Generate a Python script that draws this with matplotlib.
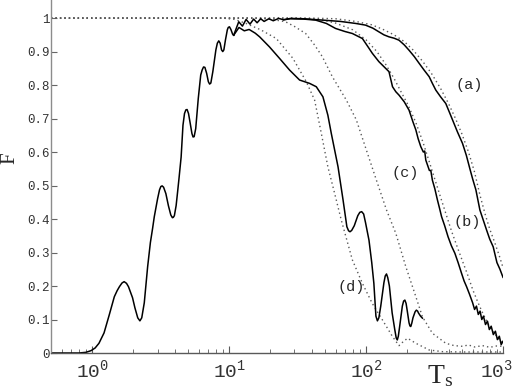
import numpy as np
import matplotlib
matplotlib.use("Agg")
import matplotlib.pyplot as plt
import matplotlib.transforms as mtransforms

plt.rcParams['font.family'] = 'Liberation Mono'
plt.rcParams['mathtext.fontset'] = 'custom'
plt.rcParams['mathtext.rm'] = 'Liberation Mono'

# ── data ─────────────────────────────────────────────────────────────────────
# common rising part (all solid curves share it)
t_rise = [0.5, 0.8, 0.9, 0.98, 1.05, 1.12, 1.22, 1.33, 1.45, 1.52, 1.58, 1.65, 1.71, 1.78,
          1.84, 1.97, 2.05, 2.15, 2.23, 2.3, 2.4, 2.54, 2.66, 2.76, 2.84, 3.0, 3.1, 3.17,
          3.24, 3.32, 3.45, 3.6, 3.75, 3.85, 3.91, 3.98, 4.1, 4.2, 4.3, 4.46, 4.6, 4.72,
          4.83, 4.93, 5.05, 5.2, 5.35, 5.45, 5.55, 5.7, 5.95, 6.2, 6.35, 6.5, 6.65, 6.85,
          7.05, 7.2, 7.35, 7.6, 8.0, 8.2, 8.4, 8.6, 8.8, 8.98, 9.15, 9.4, 9.7, 9.85, 10.05,
          10.3, 10.6, 10.8]
f_rise = [0.0, 0.0, 0.002, 0.007, 0.015, 0.029, 0.06, 0.113, 0.168, 0.186, 0.198, 0.209,
          0.213, 0.208, 0.198, 0.165, 0.135, 0.105, 0.096, 0.105, 0.15, 0.258, 0.33, 0.372,
          0.407, 0.46, 0.487, 0.497, 0.499, 0.495, 0.476, 0.44, 0.412, 0.404, 0.405, 0.41,
          0.44, 0.48, 0.52, 0.585, 0.68, 0.715, 0.726, 0.727, 0.715, 0.685, 0.655, 0.645,
          0.646, 0.67, 0.76, 0.83, 0.845, 0.854, 0.853, 0.835, 0.81, 0.803, 0.806, 0.84,
          0.905, 0.925, 0.932, 0.925, 0.905, 0.9, 0.905, 0.935, 0.965, 0.972, 0.974, 0.966,
          0.952, 0.949]

# solid (a): rightmost
t_a = [10.8, 11.75, 12.5, 13.3, 14.2, 15.1, 16, 17, 18, 19.5, 21, 23, 25, 28, 35, 48, 65, 84,
       99, 112, 124, 135, 147, 160, 174, 190, 206, 225, 244, 265, 289, 305, 323, 350, 382,
       405, 428, 465, 506, 540, 573, 600, 634, 678, 720, 759, 800, 848, 903, 950, 1000]
f_a = [0.949, 0.989, 0.976, 0.996, 0.982, 0.997, 0.986, 0.998, 0.99, 0.998, 0.992, 0.999, 0.995,
       0.999, 0.998, 0.994, 0.99, 0.984, 0.979, 0.97, 0.959, 0.95, 0.944, 0.94, 0.934, 0.92,
       0.904, 0.885, 0.865, 0.845, 0.825, 0.805, 0.785, 0.765, 0.745, 0.72, 0.696, 0.66, 0.626,
       0.59, 0.55, 0.52, 0.487, 0.427, 0.395, 0.367, 0.34, 0.317, 0.27, 0.25, 0.226]

# solid (b)
t_b = [25, 28, 35, 42.8, 51.3, 59.9, 70, 79.4, 94, 103, 111, 124, 135, 147, 156, 165, 174,
       190, 206, 220, 231, 240, 251, 262, 268, 273, 290, 297, 305, 318, 332, 345, 356, 375,
       397, 420, 445, 470, 498, 520, 542, 570, 600, 620, 640, 660, 680, 700, 720, 745, 770,
       795, 820, 850, 880, 910, 940, 970, 1000]
f_b = [0.995, 0.998, 0.997, 0.994, 0.984, 0.969, 0.96, 0.954, 0.939, 0.915, 0.895, 0.87, 0.855,
       0.84, 0.795, 0.78, 0.77, 0.75, 0.725, 0.69, 0.666, 0.64, 0.616, 0.6, 0.603, 0.576, 0.545,
       0.545, 0.516, 0.49, 0.457, 0.43, 0.407, 0.38, 0.347, 0.32, 0.298, 0.27, 0.238, 0.215,
       0.198, 0.175, 0.15, 0.13, 0.14, 0.115, 0.125, 0.1, 0.11, 0.085, 0.095, 0.07, 0.08,
       0.055, 0.065, 0.04, 0.05, 0.025, 0.035]

# solid (d): oscillating
t_d = [10.8, 11.8, 12.9, 14, 15.5, 16.7, 19.7, 23.3, 27.6, 32.7, 38.7, 43.3, 48.4, 52.6,
       55.7, 62.4, 67.9, 72.4, 74.5, 76.3, 78.5, 82, 87, 90, 92.9, 96, 99, 105, 110, 114,
       118, 121, 124, 128, 135, 138, 141, 144, 148, 155, 162, 166, 169, 172, 176, 184, 188,
       192, 196, 200, 206, 209, 212, 216, 220, 228, 233, 238, 241, 250, 258]
f_d = [0.949, 0.972, 0.962, 0.966, 0.955, 0.944, 0.914, 0.88, 0.845, 0.815, 0.805, 0.795,
       0.765, 0.71, 0.656, 0.556, 0.457, 0.377, 0.365, 0.362, 0.366, 0.38, 0.41, 0.42, 0.422,
       0.415, 0.39, 0.337, 0.27, 0.208, 0.11, 0.096, 0.105, 0.14, 0.21, 0.23, 0.236, 0.225,
       0.2, 0.12, 0.07, 0.045, 0.039, 0.05, 0.08, 0.14, 0.155, 0.158, 0.148, 0.125, 0.09,
       0.081, 0.079, 0.09, 0.105, 0.123, 0.128, 0.125, 0.12, 0.11, 0.104]

# dotted curves
td_a = [0.5, 40, 60, 84, 110, 135, 160, 190, 220, 260, 300, 350, 400, 450, 500, 560, 620,
        680, 740, 800, 870, 940, 1000]
fd_a = [1.0, 1.0, 0.998, 0.99, 0.98, 0.965, 0.95, 0.93, 0.905, 0.87, 0.835, 0.79, 0.745,
        0.70, 0.655, 0.6, 0.54, 0.47, 0.415, 0.37, 0.33, 0.29, 0.255]
td_b = [0.5, 30, 45, 60, 80, 100, 120, 140, 160, 180, 200, 230, 260, 290, 320, 350, 380,
        420, 460, 500, 550, 600, 650, 700, 760, 820, 880, 940, 1000]
fd_b = [1.0, 1.0, 0.997, 0.985, 0.965, 0.935, 0.9, 0.86, 0.82, 0.78, 0.745, 0.69, 0.63,
        0.57, 0.515, 0.465, 0.42, 0.365, 0.32, 0.28, 0.235, 0.19, 0.155, 0.125, 0.095, 0.07,
        0.055, 0.04, 0.03]
td_c = [0.5, 15, 20, 25.8, 30, 36.2, 42, 47.9, 56.7, 71.8, 84.9, 100.5, 119, 141, 165, 195,
        231, 258, 305, 382, 440, 506, 560, 620, 709, 800, 900, 1000]
fd_c = [1.0, 1.0, 0.997, 0.989, 0.975, 0.954, 0.92, 0.885, 0.825, 0.755, 0.696, 0.606,
        0.516, 0.427, 0.357, 0.258, 0.168, 0.108, 0.059, 0.029, 0.022, 0.02, 0.024, 0.018,
        0.022, 0.017, 0.021, 0.02]
td_d = [0.5, 9, 11, 13.3, 17, 22.1, 29.2, 36.6, 42.1, 47.1, 52.6, 58.9, 65.9, 79.4, 94,
        111, 132, 156, 174, 188, 201, 231, 289, 362, 500, 1000]
fd_d = [1.0, 1.0, 0.996, 0.984, 0.965, 0.939, 0.88, 0.81, 0.755, 0.656, 0.556, 0.477, 0.397,
        0.278, 0.208, 0.148, 0.098, 0.049, 0.022, 0.035, 0.044, 0.029, 0.009, 0.004, 0.003,
        0.003]

labels = ["(a)", "(b)", "(c)", "(d)"]
label_t = [563, 545, 192, 78.5]
label_f = [0.80, 0.391, 0.537, 0.197]

y_ticks = [0, 0.1, 0.2, 0.3, 0.4, 0.5, 0.6, 0.7, 0.8, 0.9, 1.0]
y_ticklabels = ["0", "0.1", "0.2", "0.3", "0.4", "0.5", "0.6", "0.7", "0.8", "0.9", "1"]
x_ticks = [1, 10, 100, 1000]
x_ticklabels = [r"$\mathregular{10^{0}}$", r"$\mathregular{10^{1}}$",
                r"$\mathregular{10^{2}}$", r"$\mathregular{10^{3}}$"]

# ── plot ─────────────────────────────────────────────────────────────────────
fig = plt.figure(figsize=(5.12, 3.91), dpi=100)
ax = fig.add_axes([51/512, 38/391, (503-51)/512, 353/391])

dot_style = dict(color="0.35", lw=1.0, linestyle=(0, (1, 2.2)))
for tt, ff in [(td_a, fd_a), (td_b, fd_b), (td_c, fd_c), (td_d, fd_d)]:
    ax.plot(tt, ff, **dot_style)

solid_style = dict(color="black", lw=1.1, solid_joinstyle="round")
ax.plot(t_rise, f_rise, **solid_style)
ax.plot(t_a, f_a, **solid_style)
ax.plot(t_b, f_b, **solid_style)
ax.plot(t_d, f_d, **solid_style)

for lab, lt, lf in zip(labels, label_t, label_f):
    ax.text(lt, lf, lab, fontsize=11, ha="center", va="center", color="0.15")

ax.set_xscale("log")
ax.set_xlim(0.5, 1000)
ax.set_ylim(0, 1.054)

for s in ["top", "right"]:
    ax.spines[s].set_visible(False)
ax.spines["left"].set_color("0.55")
ax.spines["bottom"].set_color("0.35")
ax.spines["left"].set_linewidth(1.0)
ax.spines["bottom"].set_linewidth(1.0)

ax.set_yticks(y_ticks)
ax.set_yticklabels(y_ticklabels, fontsize=9, color="0.2")
ax.set_xticks(x_ticks)
ax.set_xticklabels(x_ticklabels, fontsize=14, color="0.2")
ax.xaxis.set_minor_locator(matplotlib.ticker.LogLocator(base=10, subs=np.arange(2, 10)))
ax.xaxis.set_minor_formatter(matplotlib.ticker.NullFormatter())
ax.tick_params(axis="y", direction="in", length=4, width=0.8, color="0.4", pad=1)
ax.tick_params(axis="x", which="major", direction="in", length=5, width=0.8, color="0.35", pad=4)
ax.tick_params(axis="x", which="minor", direction="in", length=3, width=0.6, color="0.35")

# keep the last decade label inside the figure
last = ax.get_xticklabels()[-1]
last.set_transform(last.get_transform() + mtransforms.ScaledTranslation(-7/100, 0, fig.dpi_scale_trans))

ax.text(346, -0.07, r"$\mathregular{T_s}$", fontsize=20, family="Liberation Serif",
        ha="center", va="center", color="0.15")
fig.text(10/512, (391-158)/391, "F", fontsize=15, family="Liberation Serif", rotation=90,
         ha="center", va="center", color="0.15")

plt.savefig("out.png", dpi=100)
